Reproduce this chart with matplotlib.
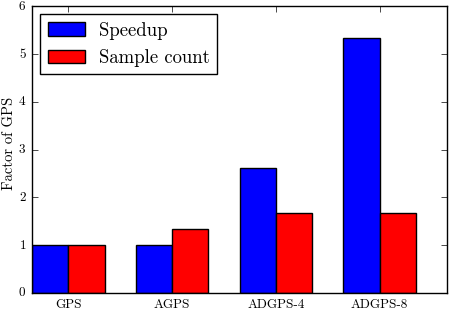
import numpy as np
import matplotlib
import matplotlib.pyplot as plt

plt.style.use('classic')
plt.rcParams['font.family'] = ['cmr10', 'DejaVu Serif']
plt.rcParams['mathtext.fontset'] = 'cm'
plt.rcParams['axes.formatter.use_mathtext'] = True

categories = ['GPS', 'AGPS', 'ADGPS-4', 'ADGPS-8']
speedup = [1.0, 1.0, 2.62, 5.33]
sample_count = [1.0, 1.33, 1.67, 1.67]

x = np.arange(len(categories))
w = 0.35

fig = plt.figure(figsize=(4.49, 3.10), dpi=100)
ax = fig.add_axes([32/449, 17/310, 415/449, 287/310])
ax.bar(x, speedup, w, align='edge', color='#0000ff', edgecolor='black', label='Speedup')
ax.bar(x + w, sample_count, w, align='edge', color='#ff0000', edgecolor='black', label='Sample count')

ax.set_xlim(0, 4)
ax.set_ylim(0, 6)
ax.set_xticks(x + w)
ax.set_xticklabels(categories, fontsize=9.5)
ax.tick_params(axis='y', labelsize=9.5)
ax.set_ylabel('Factor of GPS', fontsize=10.5)
ax.yaxis.set_label_coords(-0.039, 0.52)
ax.legend(loc='upper left', fontsize=13.5, handlelength=2.0, handletextpad=0.75,
          borderaxespad=0.43)

fig.savefig('out.png', dpi=100)
